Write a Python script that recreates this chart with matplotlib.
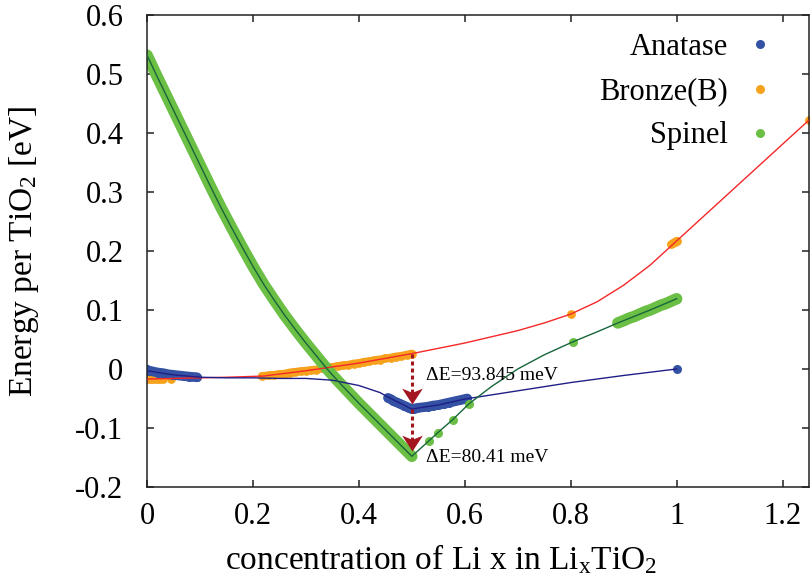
import numpy as np
import matplotlib
matplotlib.use("Agg")
import matplotlib.pyplot as plt
from matplotlib.path import Path

plt.rcParams["font.family"] = ["Liberation Serif", "DejaVu Serif"]
plt.rcParams["mathtext.fontset"] = "custom"
plt.rcParams["mathtext.rm"] = "Liberation Serif"
plt.rcParams["mathtext.it"] = "Liberation Serif:italic"
plt.rcParams["mathtext.default"] = "regular"

# ---- computed formation energies (eV per TiO2) ----
anatase_x = [0.0, 0.0, 0.005, 0.01, 0.02, 0.03, 0.04, 0.05, 0.06, 0.07, 0.08, 0.094,
             0.455, 0.46, 0.465, 0.47, 0.475, 0.48, 0.485, 0.49, 0.495, 0.5,
             0.505, 0.51, 0.52, 0.53, 0.54, 0.55, 0.56, 0.57, 0.58, 0.59, 0.6, 0.604,
             1.0]
anatase_y = [-0.001, -0.004, -0.003, -0.004, -0.006, -0.007, -0.009, -0.010, -0.011, -0.012, -0.013, -0.014,
             -0.049, -0.051, -0.054, -0.056, -0.058, -0.060, -0.062, -0.064, -0.066, -0.068,
             -0.067, -0.066, -0.065, -0.064, -0.062, -0.061, -0.059, -0.057, -0.055, -0.053, -0.051, -0.050,
             0.0]

bronze_x = [0.0, 0.005, 0.01, 0.015, 0.02, 0.025, 0.03, 0.045, 0.094,
            0.217, 0.23, 0.24, 0.25, 0.26, 0.27, 0.28, 0.29, 0.30, 0.31, 0.32, 0.33, 0.34,
            0.35, 0.36, 0.37, 0.38, 0.39, 0.40, 0.41, 0.42, 0.43, 0.44, 0.45, 0.46, 0.47,
            0.48, 0.49, 0.50,
            0.80, 0.99, 0.993, 0.996, 1.0, 1.25]
bronze_y = [-0.017, -0.017, -0.017, -0.017, -0.017, -0.017, -0.017, -0.017, -0.014,
            -0.012, -0.011, -0.010, -0.009, -0.008, -0.006, -0.005, -0.004, -0.003, -0.002, -0.001, 0.001, 0.002,
            0.003, 0.005, 0.006, 0.007, 0.009, 0.010, 0.012, 0.013, 0.015, 0.016, 0.018, 0.019, 0.021,
            0.022, 0.024, 0.026,
            0.093, 0.211, 0.213, 0.215, 0.217, 0.422]

spinel_x = [0.00, 0.02, 0.04, 0.06, 0.08, 0.10, 0.12, 0.14, 0.16, 0.18, 0.20, 0.22, 0.24,
            0.26, 0.28, 0.30, 0.32, 0.34, 0.36, 0.38, 0.40, 0.42, 0.44, 0.46, 0.48, 0.50,
            0.532, 0.549, 0.577, 0.608, 0.804,
            0.889, 0.90, 0.91, 0.92, 0.93, 0.94, 0.95, 0.96, 0.97, 0.98, 0.99, 1.0]
spinel_y = [0.532, 0.494, 0.457, 0.420, 0.383, 0.346, 0.309, 0.273, 0.239, 0.206, 0.174, 0.144, 0.117,
            0.091, 0.067, 0.044, 0.022, 0.000, -0.020, -0.039, -0.058, -0.076, -0.094, -0.112, -0.130, -0.148,
            -0.122, -0.108, -0.086, -0.059, 0.046,
            0.078, 0.082, 0.086, 0.089, 0.093, 0.097, 0.100, 0.104, 0.108, 0.111, 0.115, 0.119]

# composition ranges sampled densely (drawn as continuous bands)
anatase_dense = [(0.0, 0.094), (0.455, 0.604)]
bronze_dense = [(0.0, 0.03), (0.217, 0.5), (0.99, 1.0)]
spinel_dense = [(0.0, 0.5), (0.889, 1.0)]

# ---- smooth fitted curves through each phase ----
anatase_fit_x = [0.0, 0.05, 0.1, 0.15, 0.2, 0.25, 0.3, 0.35, 0.4, 0.44, 0.46, 0.48, 0.5,
                 0.52, 0.55, 0.6, 0.7, 0.8, 0.9, 1.0]
anatase_fit_y = [-0.003, -0.010, -0.014, -0.015, -0.015, -0.016, -0.016, -0.019, -0.028, -0.040, -0.050, -0.059, -0.068,
                 -0.065, -0.061, -0.051, -0.037, -0.023, -0.011, 0.0]

bronze_fit_x = [0.0, 0.05, 0.1, 0.15, 0.22, 0.3, 0.4, 0.5, 0.6, 0.7, 0.75, 0.8, 0.85, 0.9,
                0.95, 1.0, 1.05, 1.1, 1.15, 1.2, 1.25]
bronze_fit_y = [-0.017, -0.016, -0.015, -0.014, -0.012, -0.003, 0.010, 0.026, 0.044, 0.065, 0.078, 0.093, 0.114, 0.142,
                0.176, 0.217, 0.258, 0.299, 0.340, 0.381, 0.422]

spinel_fit_x = spinel_x[:26] + [0.532, 0.549, 0.577, 0.608, 0.65, 0.70, 0.75, 0.804, 0.85, 0.889, 0.95, 1.0]
spinel_fit_y = spinel_y[:26] + [-0.122, -0.108, -0.086, -0.059, -0.030, 0.000, 0.024, 0.046, 0.063, 0.078, 0.100, 0.119]

labels = ["Anatase", "Bronze(B)", "Spinel"]
dE_x = 0.5
dE_top = [0.026, -0.068]       # bronze, anatase at x = 0.5
dE_bottom = [-0.068, -0.148]   # anatase, spinel at x = 0.5
dE_text = ["ΔE=93.845 meV", "ΔE=80.41 meV"]
dE_text_y = [-0.019, -0.158]

c_ana, c_bro, c_spi = "#3451a3", "#f7a21d", "#6bbf45"
l_ana, l_bro, l_spi = "#1f1f86", "#f42828", "#17663a"
arrow_c = "#a3161f"

fig = plt.figure(figsize=(8.1, 5.88), dpi=100)
ax = fig.add_axes([0.1815, 0.1718, 0.8173, 0.8027])


def phase(xs, ys, dense, fx, fy, col, lcol, ms, band):
    xs, ys = np.asarray(xs), np.asarray(ys)
    for lo, hi in dense:
        m = (xs >= lo) & (xs <= hi)
        ax.plot(xs[m], ys[m], color=col, lw=band, solid_capstyle="round", zorder=2)
    ax.plot(xs, ys, "o", color=col, ms=ms, mec="none", zorder=2)
    ax.plot(fx, fy, color=lcol, lw=1.0, zorder=3)


phase(bronze_x, bronze_y, bronze_dense, bronze_fit_x, bronze_fit_y, c_bro, l_bro, 6.3, 5.8)
phase(anatase_x, anatase_y, anatase_dense, anatase_fit_x, anatase_fit_y, c_ana, l_ana, 6.5, 7.0)
phase(spinel_x, spinel_y, spinel_dense, spinel_fit_x, spinel_fit_y, c_spi, l_spi, 6.5, 8.3)

# legend handles
for lab, col in zip(labels, [c_ana, c_bro, c_spi]):
    ax.plot([], [], "o", color=col, ms=6.5, mec="none", label=lab)

# energy-difference arrows
head = Path([(0, 0.3), (-0.62, 1.25), (0, 1.0), (0.62, 1.25), (0, 0.3)],
            [Path.MOVETO, Path.LINETO, Path.LINETO, Path.LINETO, Path.CLOSEPOLY])
for y0, y1, txt, ty in zip(dE_top, dE_bottom, dE_text, dE_text_y):
    ax.plot([dE_x, dE_x], [y0, y1 + 0.025], color=arrow_c, lw=2.2,
            ls=(0, (1.3, 1.0)), zorder=4)
    ax.plot([dE_x], [y1], marker=head, ms=30, color=arrow_c, mec="none", zorder=5)
    ax.text(dE_x + 0.026, ty, txt, fontsize=14, ha="left", va="baseline", zorder=6)

ax.set_xlim(0, 1.25)
ax.set_ylim(-0.2, 0.6)
ax.set_xticks([0, 0.2, 0.4, 0.6, 0.8, 1.0, 1.2])
ax.set_xticklabels(["0", "0.2", "0.4", "0.6", "0.8", "1", "1.2"])
ax.set_yticks([-0.2, -0.1, 0, 0.1, 0.2, 0.3, 0.4, 0.5, 0.6])
ax.set_yticklabels(["-0.2", "-0.1", "0", "0.1", "0.2", "0.3", "0.4", "0.5", "0.6"])
ax.tick_params(direction="in", length=5, width=1.1, color="#222222",
               top=True, right=True, labelsize=22)
ax.tick_params(axis="y", pad=17)
ax.tick_params(axis="x", pad=11)
for s in ax.spines.values():
    s.set_linewidth(1.1)
    s.set_color("#222222")

ax.set_xlabel(r"concentration of Li x in Li$_{x}$TiO$_{2}$", fontsize=24)
ax.xaxis.set_label_coords(0.444, -0.118)
ax.set_ylabel(r"Energy per TiO$_{2}$ [eV]", fontsize=24)
ax.yaxis.set_label_coords(-0.160, 0.50)

leg = ax.legend(loc="upper right", bbox_to_anchor=(0.949, 0.962), frameon=False,
                markerfirst=False, numpoints=1, fontsize=22, handlelength=1.0,
                handletextpad=0.55, labelspacing=0.50, borderpad=0, borderaxespad=0)
for t in leg.get_texts():
    t.set_ha("right")

fig.savefig("out.png", dpi=100)
